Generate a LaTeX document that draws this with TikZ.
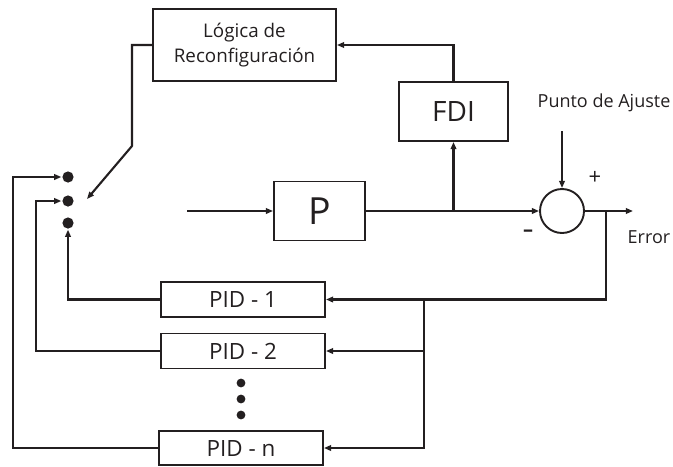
\documentclass[tikz,border=0pt]{standalone}
\usepackage{fontspec}
\setmainfont{Open Sans}
\usepackage{tikz}
\usetikzlibrary{arrows.meta}
\definecolor{tinta}{HTML}{231F20}

\begin{document}
\begin{tikzpicture}[x=0.5pt, y=-0.5pt, line width=1.05pt, color=tinta,
    >={Triangle[length=3.6pt,width=2.8pt]},
    bloque/.style={draw, line width=0.95pt, inner sep=0pt},
    pid/.style={bloque, minimum width=82pt, minimum height=17.5pt, font=\fontsize{11.2}{12}\selectfont},
    punto/.style={circle, fill, inner sep=0pt, minimum size=5.6pt},
    etiq/.style={font=\fontsize{9}{10}\selectfont}]
    \useasboundingbox (0,0) rectangle (673,466);

    % bloques
    \node [bloque, minimum width=91.5pt, minimum height=36pt, align=center, font=\fontsize{9.4}{12.5}\selectfont] (logica) at (244.5,45) {Lógica de\\Reconfiguración};
    \node [bloque, minimum width=54.5pt, minimum height=29.5pt, font=\fontsize{14}{15}\selectfont] (fdi) at (453.5,111.5) {FDI};
    \node [bloque, minimum width=45.5pt, minimum height=29.5pt, font=\fontsize{18.7}{22}\selectfont] (planta) at (319.5,211) {P};
    \node [bloque, circle, minimum size=22pt] (suma) at (562,211) {};
    \node [pid] (pid1) at (243,299.5) {PID - 1};
    \node [pid] (pid2) at (243,351) {PID - 2};
    \node [pid, minimum height=17pt] (pidn) at (241,448) {PID - n};

    % conmutador
    \node [punto] (s1) at (68,177) {};
    \node [punto] (s2) at (68,201) {};
    \node [punto] (s3) at (68,223) {};
    \foreach \y in {383,399,415}
      \node [punto, minimum size=4.4pt] (v\y) at (241,\y) {};

    % textos
    \node [etiq] (ajuste) at (604,103) {Punto de Ajuste};
    \node [etiq] (error) at (649,237) {Error};
    \node [font=\fontsize{11}{12}\selectfont] (mas) at (595,178) {+};
    \node [font=\bfseries\fontsize{10}{12}\selectfont] (menos) at (528,233) {--};

    \coordinate (entrada) at (187,211);
    \coordinate (ref) at (562,131);
    \coordinate (salida) at (633,211);
    \coordinate (rama) at (606,211);
    \coordinate (bus) at (424,299.5);
    \coordinate (x2) at (36,0);
    \coordinate (xn) at (13,0);
    \coordinate (q1) at (132,146);
    \coordinate (q2) at (87,199);

    % lazo principal
    \draw [->] (entrada) -- (planta.west);
    \draw [->] (planta.east) -- (suma.west);
    \draw [->] (fdi.south |- planta.east) -- (fdi.south);
    \draw [->] (fdi.north) |- (logica.east);
    \draw [->] (ref) -- (suma.north);
    \draw [->] (suma.east) -- (salida);
    \draw [->] (rama) |- (pid1.east);
    \draw [->] (bus) |- (pidn.east);
    \draw [->] (bus |- pid2.east) -- (pid2.east);

    % realimentacion a los contactos
    \draw [->] (pid1.west) -| (s3.south);
    \draw [->] (pid2.west) -- (pid2.west -| x2) |- (s2.west);
    \draw [->] (pidn.west) -- (pidn.west -| xn) |- (s1.west);
    \draw [->] (logica.west) -| (q1) -- (q2);

\end{tikzpicture}
\end{document}
